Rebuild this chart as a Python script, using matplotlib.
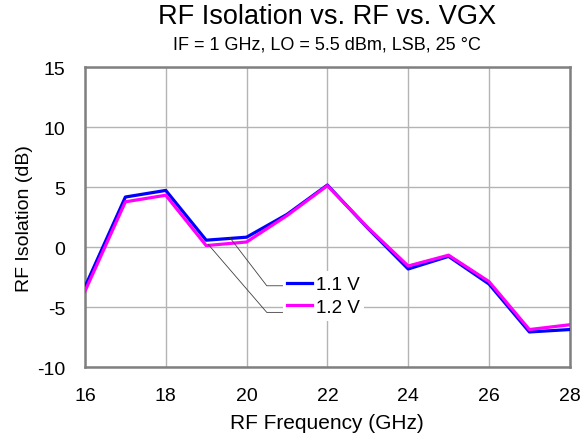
import matplotlib
matplotlib.use("Agg")
import matplotlib.pyplot as plt

plt.rcParams['font.family'] = ['Liberation Sans', 'DejaVu Sans']
plt.rcParams['axes.unicode_minus'] = False

freq = [16, 17, 18, 19, 20, 21, 22, 23, 24, 25, 26, 27, 28]
iso_11 = [-3.3, 4.2, 4.75, 0.6, 0.85, 2.75, 5.2, 1.6, -1.8, -0.75, -3.05, -7.05, -6.85]
iso_12 = [-3.65, 3.8, 4.35, 0.15, 0.45, 2.65, 5.15, 1.65, -1.55, -0.65, -2.85, -6.85, -6.45]
labels = ["1.1 V", "1.2 V"]
colors = ["#0000ff", "#ff00ff"]

fig = plt.figure(figsize=(5.82, 4.39), dpi=100)
ax = fig.add_axes([0.146, 0.161, 0.833, 0.683])

l1, = ax.plot(freq, iso_11, color=colors[0], lw=2.3, label=labels[0], zorder=3)
l2, = ax.plot(freq, iso_12, color=colors[1], lw=2.3, label=labels[1], zorder=4)

ax.set_xlim(16, 28)
ax.set_ylim(-10, 15)
ax.set_xticks(range(16, 29, 2))
ax.set_yticks(range(-10, 16, 5))
ax.grid(True, color="#b4b4b4", lw=1.0)
ax.set_axisbelow(True)
ax.tick_params(length=0, labelsize=14)
ax.tick_params(axis="x", pad=14.5)
ax.tick_params(axis="y", pad=14)
for s in ax.spines.values():
    s.set_color("#808080")
    s.set_linewidth(1.8)

ax.set_xlabel("RF Frequency (GHz)", fontsize=15, labelpad=6)
ax.set_ylabel("RF Isolation (dB)", fontsize=14, labelpad=3)

cx = 0.146 + 0.833 / 2
fig.text(cx, 0.962, "RF Isolation vs. RF vs. VGX", ha="center", va="center", fontsize=19.5)
fig.text(cx, 0.897, "IF = 1 GHz, LO = 5.5 dBm, LSB, 25 \u00b0C", ha="center", va="center", fontsize=13)

# leader lines
ax.plot([19.59, 20.50, 20.89], [0.8, -3.2, -3.2], color="#404040", lw=0.6, zorder=5)
ax.plot([19.05, 20.50, 20.89], [0.25, -5.42, -5.42], color="#404040", lw=0.6, zorder=5)

leg = ax.legend(handles=[l1, l2], loc="upper left", bbox_to_anchor=(0.408, 0.32),
                frameon=True, fontsize=13.5, handlelength=1.3, handletextpad=0.2,
                labelspacing=0.3, borderpad=0.25, borderaxespad=0, fancybox=False)
leg.get_frame().set_edgecolor("none")
leg.get_frame().set_facecolor("white")
leg.get_frame().set_alpha(1)
leg.set_zorder(6)

fig.savefig("out.png", dpi=100)
